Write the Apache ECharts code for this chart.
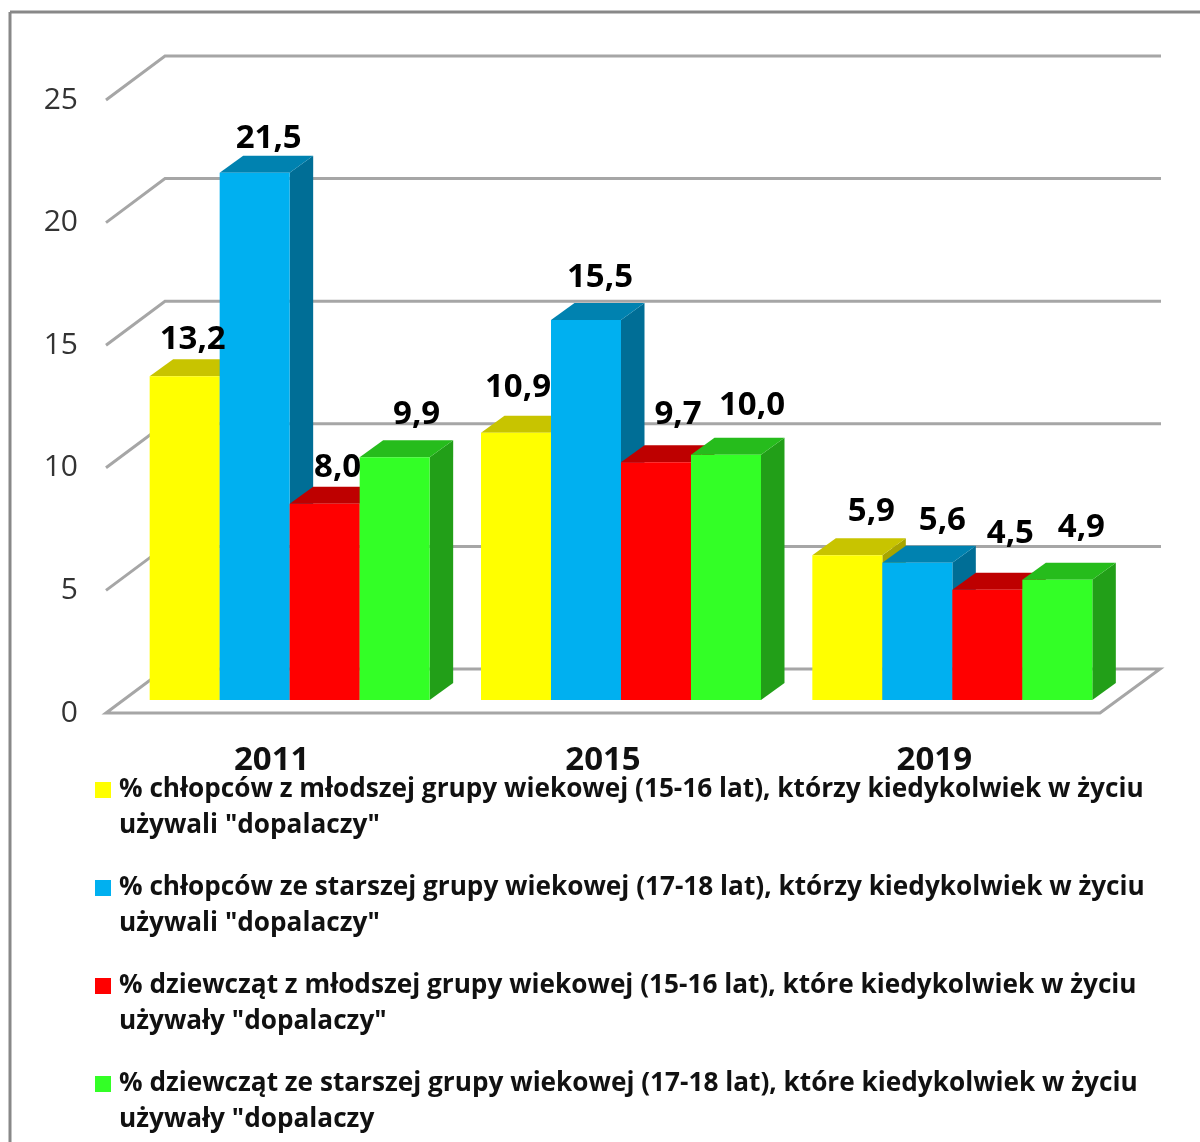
<!DOCTYPE html>
<html>
<head>
<meta charset="utf-8">
<style>html,body{margin:0;padding:0;background:#fff}#chart{width:1200px;height:1142px}</style>
<script src="https://cdn.jsdelivr.net/npm/echarts@6/dist/echarts.min.js"></script>
</head>
<body>
<div id="chart"></div>
<script>
// dane
var categories = ['2011', '2015', '2019'];
var yTicks = [0, 5, 10, 15, 20, 25];
var boysYounger = [13.2, 10.9, 5.9];
var boysOlder = [21.5, 15.5, 5.6];
var girlsYounger = [8.0, 9.7, 4.5];
var girlsOlder = [9.9, 10.0, 4.9];
var seriesNames = [
  '% chłopców z młodszej grupy wiekowej (15-16 lat), którzy kiedykolwiek w życiu\nużywali "dopalaczy"',
  '% chłopców ze starszej grupy wiekowej (17-18 lat), którzy kiedykolwiek w życiu\nużywali "dopalaczy"',
  '% dziewcząt z młodszej grupy wiekowej (15-16 lat), które kiedykolwiek w życiu\nużywały "dopalaczy"',
  '% dziewcząt ze starszej grupy wiekowej (17-18 lat), które kiedykolwiek w życiu\nużywały "dopalaczy'
];

// wyglad slupkow
var frontColors = ['#ffff00', '#00b0f0', '#ff0000', '#33ff26'];
var topColors = ['#c8c400', '#0082b0', '#be0000', '#26bc1c'];
var sideColors = ['#a8a500', '#006e96', '#9c0000', '#229f18'];
// reczne przesuniecia etykiet wzgledem srodka slupka
var labelShift = [
  [[8, -37], [2, -45], [24, -44]],
  [[14, -34], [14, -42], [25, -42]],
  [[13, -36], [22, -48], [23, -56]],
  [[22, -43], [26, -49], [24, -52]]
];

var barW = 70, groupShift = 18, floorShift = 13;
var depthX = 23.5, depthY = 17;
var wallX = 59, wallY = 44;
var font = '"Open Sans", sans-serif';
var lineColor = '#a6a6a6';

function renderWalls(params, api) {
  var v = api.value(0);
  var cs = params.coordSys;
  var y = api.coord([0, v])[1];
  var left = cs.x, right = cs.x + cs.width;
  var style = { fill: null, stroke: lineColor, lineWidth: 3 };
  if (v === 0) {
    return {
      type: 'polygon',
      shape: { points: [[left, y], [left + wallX, y - wallY], [right + wallX + 1, y - wallY], [right, y]] },
      style: style
    };
  }
  return {
    type: 'polyline',
    shape: { points: [[left, y], [left + wallX, y - wallY], [right + wallX + 2, y - wallY]] },
    style: style
  };
}

function makeBarRenderer(idx) {
  return function (params, api) {
    var cat = api.value(0), val = api.value(1);
    var top = api.coord([cat, val]);
    var base = api.coord([cat, 0]);
    var x0 = top[0] + groupShift + (idx - 2) * barW;
    var x1 = x0 + barW;
    var yt = top[1] - floorShift;
    var yb = base[1] - floorShift;
    var shift = labelShift[idx][cat];
    return {
      type: 'group',
      children: [
        { type: 'polygon', shape: { points: [[x1, yt], [x1 + depthX, yt - depthY], [x1 + depthX, yb - depthY], [x1, yb]] }, style: { fill: sideColors[idx] } },
        { type: 'polygon', shape: { points: [[x0, yt], [x0 + depthX, yt - depthY], [x1 + depthX, yt - depthY], [x1, yt]] }, style: { fill: topColors[idx] } },
        { type: 'rect', shape: { x: x0, y: yt, width: barW, height: yb - yt }, style: { fill: frontColors[idx] } },
        {
          type: 'text', z2: 20,
          style: {
            x: x0 + barW / 2 + shift[0], y: yt + shift[1],
            text: val.toFixed(1).replace('.', ','),
            font: 'bold 33px ' + font, fill: '#000', align: 'center', verticalAlign: 'middle'
          }
        }
      ]
    };
  };
}

function toPairs(arr) {
  return arr.map(function (v, i) { return [i, v]; });
}

var allValues = [boysYounger, boysOlder, girlsYounger, girlsOlder];
var series = [{
  type: 'custom', name: 'siatka', renderItem: renderWalls, clip: false,
  data: yTicks.map(function (t) { return [t]; }), encode: { y: 0 }, silent: true
}];
allValues.forEach(function (vals, i) {
  series.push({
    type: 'custom', name: seriesNames[i], renderItem: makeBarRenderer(i), clip: false,
    itemStyle: { color: frontColors[i] },
    data: toPairs(vals), encode: { x: 0, y: 1 }
  });
});

var myChart = echarts.init(document.getElementById('chart'));
myChart.setOption({
  animation: false,
  backgroundColor: '#fff',
  grid: { left: 106, right: 100, top: 100, bottom: 429 },
  xAxis: {
    type: 'category', data: categories,
    axisLine: { show: false }, axisTick: { show: false },
    axisLabel: { margin: 31, fontFamily: font, fontWeight: 'bold', fontSize: 33, color: '#111' }
  },
  yAxis: {
    type: 'value', min: 0, max: 25, interval: 5,
    axisLine: { show: false }, axisTick: { show: false }, splitLine: { show: false },
    axisLabel: { margin: 28, fontFamily: font, fontSize: 30, color: '#333', padding: [7, 0, 0, 0] }
  },
  legend: {
    data: seriesNames, orient: 'vertical', left: 95, top: 772, padding: 0, itemGap: 26,
    selectedMode: false, itemWidth: 19, itemHeight: 52,
    icon: 'path://M0 0H16V16H0Z M19 52L19 52',
    textStyle: { fontFamily: font, fontWeight: 'bold', fontSize: 26.2, lineHeight: 36, color: '#111' }
  },
  graphic: [
    { type: 'line', shape: { x1: 10, y1: 12, x2: 1200, y2: 12 }, style: { stroke: '#888', lineWidth: 3 } },
    { type: 'line', shape: { x1: 10, y1: 12, x2: 10, y2: 1142 }, style: { stroke: '#888', lineWidth: 3 } }
  ],
  series: series
});
</script>
</body>
</html>
